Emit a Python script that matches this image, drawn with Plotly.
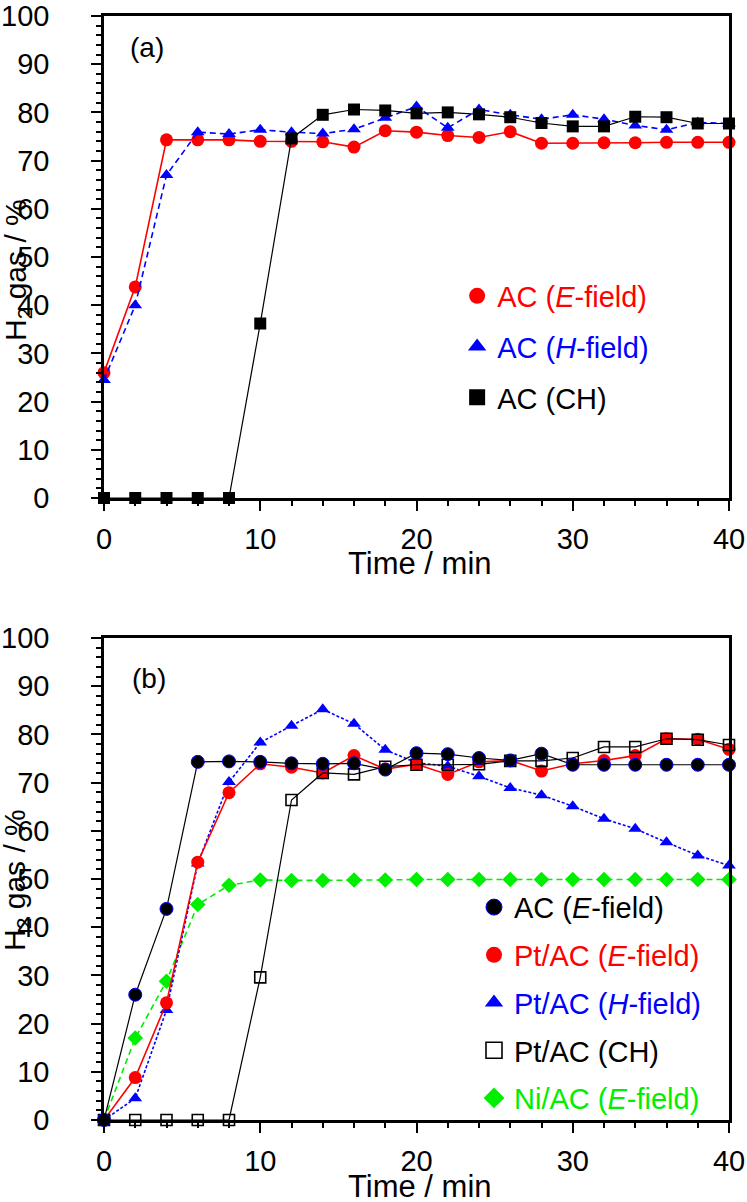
import plotly.graph_objects as go

# ---- data ----
time_min = [0, 2, 4, 6, 8, 10, 12, 14, 16, 18, 20, 22, 24, 26, 28, 30, 32, 34, 36, 38, 40]

# panel (a)
a_ac_e = [26, 43.8, 74.3, 74.3, 74.3, 74, 74, 73.9, 72.8, 76.2, 75.9, 75.2, 74.8, 76, 73.6,
          73.6, 73.7, 73.7, 73.8, 73.8, 73.8]
a_ac_h = [24.5, 40, 67, 75.9, 75.5, 76.4, 75.9, 75.6, 76.5, 78.9, 81.2, 76.8, 80.6, 79.5, 78.6,
          79.5, 78.6, 77.3, 76.4, 77.9, 77.7]
a_ac_ch = [0, 0, 0, 0, 0, 36.2, 74.6, 79.5, 80.6, 80.4, 79.8, 80, 79.6, 79, 77.8,
           77.1, 77.1, 79.1, 79, 77.7, 77.7]

# panel (b)
b_ac_e = [0, 26, 43.8, 74.3, 74.4, 74.3, 74, 73.9, 74, 72.7, 76.1, 75.9, 75.1, 74.6, 76,
          73.7, 73.7, 73.7, 73.7, 73.7, 73.7]
b_pt_e = [0, 8.8, 24.3, 53.5, 67.9, 73.9, 73.2, 72, 75.6, 72.8, 73.8, 71.7, 74.3, 74.6, 72.4,
          73.9, 74.6, 75.6, 79.1, 79, 76.9]
b_pt_h = [0, 4.5, 22.8, 53.2, 70.1, 78.3, 81.8, 85.2, 82.2, 76.8, 74.1, 73.4, 71.3, 68.9, 67.4,
          65.1, 62.5, 60.4, 57.6, 54.9, 52.8]
b_pt_ch = [0, 0, 0, 0, 0, 29.6, 66.4, 72, 71.7, 73.3, 73.7, 73.7, 73.8, 74.5, 74.5,
           75.1, 77.4, 77.4, 79.1, 78.9, 77.8]
b_ni_e = [0, 17, 28.8, 44.7, 48.7, 49.8, 49.7, 49.7, 49.8, 49.8, 49.9, 49.9, 49.9, 49.9, 49.9,
          49.9, 49.9, 49.9, 49.9, 49.9, 49.9]

RED, BLUE, BLACK, GREEN = "#FF0000", "#0000FF", "#000000", "#00EE00"
FONT = "Liberation Sans, Arial, sans-serif"

fig = go.Figure()


def add_series(y, name, sym, col, size, dash, width, legend, rank, xa, ya, mline=None):
    mline = mline or dict(width=0)
    # the real curve (no legend entry, so the legend shows markers only)
    fig.add_trace(go.Scatter(
        x=time_min, y=y, mode="lines+markers", showlegend=False,
        line=dict(color=col, width=width, dash=dash),
        marker=dict(symbol=sym, size=size, color=col, line=mline),
        cliponaxis=False, xaxis=xa, yaxis=ya))
    # marker-only legend entry
    fig.add_trace(go.Scatter(
        x=[None], y=[None], mode="markers", name=name,
        marker=dict(symbol=sym, size=16, color=col, line=mline),
        legend=legend, legendrank=rank, legendgroup=name,
        xaxis=xa, yaxis=ya, showlegend=True))


# panel (a), drawing order red -> blue -> black
add_series(a_ac_e, "<span style='color:#FF0000'>AC (<i>E</i>-field)</span>", "circle", RED, 13,
           "solid", 1.6, "legend", 1, "x", "y")
add_series(a_ac_h, "<span style='color:#0000FF'>AC (<i>H</i>-field)</span>", "triangle-up", BLUE, 12,
           "6px,4px", 1.6, "legend", 2, "x", "y")
add_series(a_ac_ch, "AC (CH)", "square", BLACK, 12, "solid", 1.2, "legend", 3, "x", "y")

# panel (b), bottom to top
add_series(b_ni_e, "<span style='color:#00EE00'>Ni/AC (<i>E</i>-field)</span>", "diamond", GREEN, 12,
           "6px,4px", 1.6, "legend2", 5, "x2", "y2")
add_series(b_pt_h, "<span style='color:#0000FF'>Pt/AC (<i>H</i>-field)</span>", "triangle-up", BLUE, 12,
           "3px,2px", 1.6, "legend2", 3, "x2", "y2")
add_series(b_pt_e, "<span style='color:#FF0000'>Pt/AC (<i>E</i>-field)</span>", "circle", RED, 13,
           "solid", 1.6, "legend2", 2, "x2", "y2")
add_series(b_pt_ch, "Pt/AC (CH)", "square-open", BLACK, 11, "solid", 1.2, "legend2", 4, "x2", "y2",
           mline=dict(width=1.6, color=BLACK))
add_series(b_ac_e, "AC (<i>E</i>-field)", "circle", BLACK, 13, "solid", 1.2, "legend2", 1, "x2", "y2",
           mline=dict(width=1, color=BLUE))

W, H = 747, 1202
ML, MR, MT, MB = 104, 18, 16, 82
plot_h = H - MT - MB
dom_b = [0, 482 / plot_h]
dom_a = [1 - 482 / plot_h, 1]

axis_common = dict(
    showline=True, linewidth=2.5, linecolor="black", mirror=True,
    ticks="outside", ticklen=10, tickwidth=1.5, tickcolor="black",
    showgrid=False, zeroline=False, automargin=False, ticklabeloverflow="allow",
    tickfont=dict(size=29, color="black", family=FONT),
    minor=dict(ticks="outside", ticklen=5, tickwidth=1.5, tickcolor="black", dtick=2, showgrid=False),
)
xaxis_common = dict(domain=[0, 1], range=[0, 40], dtick=10, tick0=0, ticklabelstandoff=3, **axis_common)
yaxis_common = dict(range=[0, 100], dtick=10, tick0=0, ticklabelstandoff=36, **axis_common)

ytitle = "H<sub>2</sub> gas / %"
xtitle = "Time / min"


def title_notes(xr, yr, yt_y, xt_y):
    return [
        dict(text=ytitle, xref=xr, yref=yr, x=-0.1392, y=yt_y, textangle=-90,
             xanchor="center", yanchor="middle", showarrow=False, font=dict(size=30)),
        dict(text=xtitle, xref=xr, yref=yr, x=0.505, y=xt_y,
             xanchor="center", yanchor="middle", showarrow=False, font=dict(size=31)),
    ]


fig.update_layout(
    width=W, height=H,
    margin=dict(l=ML, r=MR, t=MT, b=MB),
    paper_bgcolor="white", plot_bgcolor="white",
    font=dict(family=FONT, color="black"),
    xaxis=dict(anchor="y", **xaxis_common),
    yaxis=dict(domain=dom_a, anchor="x", **yaxis_common),
    xaxis2=dict(anchor="y2", **xaxis_common),
    yaxis2=dict(domain=dom_b, anchor="x2", **yaxis_common),
    legend=dict(x=0.565, y=0.7695, xanchor="left", yanchor="top", bgcolor="rgba(0,0,0,0)",
                font=dict(size=29, color="black"), tracegroupgap=10, itemwidth=30,
                traceorder="grouped"),
    legend2=dict(x=0.592, y=0.2158, xanchor="left", yanchor="top", bgcolor="rgba(0,0,0,0)",
                 font=dict(size=29, color="black"), tracegroupgap=7, itemwidth=30,
                 traceorder="grouped"),
    showlegend=True,
    annotations=[
        dict(text="(a)", xref="x domain", yref="y domain", x=0.038, y=0.934,
             xanchor="left", yanchor="middle", showarrow=False, font=dict(size=28)),
        dict(text="(b)", xref="x2 domain", yref="y2 domain", x=0.042, y=0.917,
             xanchor="left", yanchor="middle", showarrow=False, font=dict(size=28)),
    ] + title_notes("x domain", "y domain", 0.473, -0.135)
      + title_notes("x2 domain", "y2 domain", 0.498, -0.139),
)

# drop the browser's default 8px body margin so the figure fills the window
fig.write_html("out.html", config={"displayModeBar": False},
               post_script="document.body.style.margin='0';")
